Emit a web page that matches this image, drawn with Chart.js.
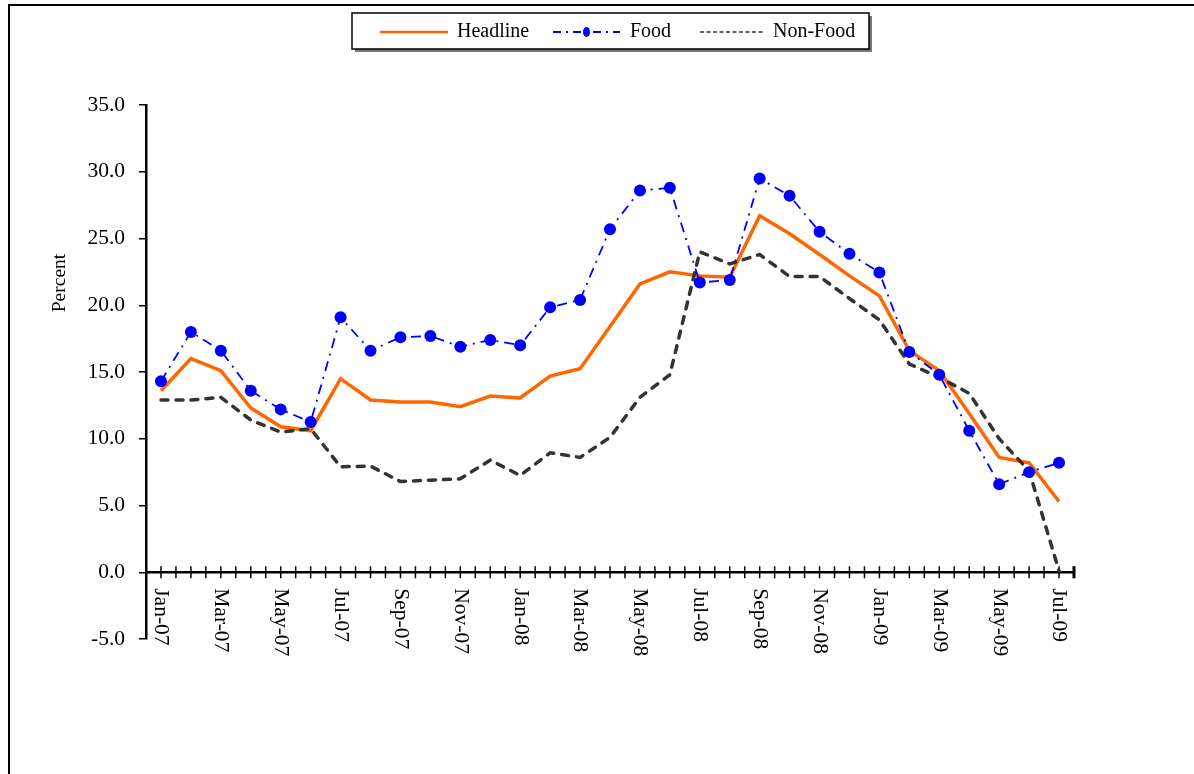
<!DOCTYPE html>
<html>
<head>
<meta charset="utf-8">
<script src="https://cdn.jsdelivr.net/npm/chart.js@4/dist/chart.umd.min.js"></script>
<style>
  html, body { margin: 0; padding: 0; background: #fff; }
  canvas { display: block; }
</style>
</head>
<body>
<canvas id="c" width="1194" height="774"></canvas>
<script>
const months = ['Jan-07','Feb-07','Mar-07','Apr-07','May-07','Jun-07','Jul-07','Aug-07','Sep-07','Oct-07','Nov-07','Dec-07',
                'Jan-08','Feb-08','Mar-08','Apr-08','May-08','Jun-08','Jul-08','Aug-08','Sep-08','Oct-08','Nov-08','Dec-08',
                'Jan-09','Feb-09','Mar-09','Apr-09','May-09','Jun-09','Jul-09'];
const headline = [13.6,16.0,15.1,12.3,10.9,10.6,14.5,12.9,12.75,12.75,12.4,13.2,
                  13.05,14.7,15.25,18.4,21.6,22.5,22.2,22.1,26.7,25.35,23.8,22.2,
                  20.7,16.6,15.1,11.9,8.6,8.2,5.3];
const food = [14.3,18.0,16.6,13.6,12.2,11.25,19.1,16.6,17.6,17.7,16.9,17.4,
              17.0,19.85,20.4,25.7,28.6,28.8,21.7,21.9,29.5,28.2,25.5,23.85,
              22.45,16.5,14.8,10.6,6.6,7.5,8.2];
const nonFood = [12.9,12.9,13.1,11.4,10.5,10.75,7.9,7.95,6.8,6.9,7.0,8.4,
                 7.25,8.95,8.6,10.1,13.1,14.8,24.0,23.1,23.8,22.15,22.15,20.5,
                 18.9,15.6,14.6,13.4,10.0,7.6,0.1];
const yTicks = { min: -5, max: 35, step: 5 };
const yTitle = 'Percent';
const seriesNames = ['Headline','Food','Non-Food'];

const FONT = '"Liberation Serif", "Times New Roman", serif';

const deco = {
  id: 'deco',
  beforeDatasetsDraw(chart) {
    const { ctx, chartArea: a, scales: { x, y } } = chart;
    const y0 = y.getPixelForValue(0);
    const half = (x.getPixelForValue(1) - x.getPixelForValue(0)) / 2;
    ctx.save();
    ctx.strokeStyle = '#000';
    ctx.lineWidth = 2.5;
    ctx.beginPath();
    ctx.moveTo(a.left, y0);
    ctx.lineTo(a.right, y0);
    ctx.stroke();
    ctx.lineWidth = 1.5;
    for (let i = 0; i < months.length; i++) {
      const c = x.getPixelForValue(i);
      [c, c + half].forEach(px => {
        ctx.beginPath();
        ctx.moveTo(px, y0 - 6);
        ctx.lineTo(px, y0 + 6);
        ctx.stroke();
      });
    }
    ctx.lineWidth = 3;
    ctx.beginPath();
    ctx.moveTo(a.right, y0 - 6);
    ctx.lineTo(a.right, y0 + 6);
    ctx.stroke();
    // labels
    ctx.fillStyle = '#000';
    ctx.font = '21.5px ' + FONT;
    ctx.textAlign = 'left';
    ctx.textBaseline = 'middle';
    months.forEach((m, i) => {
      if (i % 2) return;
      const c = x.getPixelForValue(i);
      ctx.save();
      ctx.translate(c, y0 + 16);
      ctx.rotate(Math.PI / 2);
      ctx.fillText(m, 0, 0);
      ctx.restore();
    });
    ctx.restore();
  },
  afterDraw(chart) {
    const { ctx } = chart;
    ctx.save();
    // outer frame
    ctx.strokeStyle = '#000';
    ctx.lineWidth = 2;
    ctx.strokeRect(9, 5, 1400, 1000);
    // y title
    ctx.fillStyle = '#000';
    ctx.font = '19.5px ' + FONT;
    ctx.textAlign = 'center';
    ctx.textBaseline = 'middle';
    ctx.save();
    ctx.translate(60, 283);
    ctx.rotate(-Math.PI / 2);
    ctx.fillText(yTitle, 0, 0);
    ctx.restore();
    // legend box
    const bx = 352, by = 13, bw = 517, bh = 36;
    ctx.fillStyle = '#777';
    ctx.fillRect(bx + 3, by + 3, bw, bh);
    ctx.fillStyle = '#fff';
    ctx.fillRect(bx, by, bw, bh);
    ctx.lineWidth = 1.5;
    ctx.strokeStyle = '#000';
    ctx.strokeRect(bx, by, bw, bh);
    const ly = by + bh / 2 + 1;
    const ds = chart.data.datasets;
    const items = [
      { x0: 380, x1: 448, tx: 457 },
      { x0: 553, x1: 620, tx: 630 },
      { x0: 700, x1: 765, tx: 773 }
    ];
    ctx.font = '20px ' + FONT;
    ctx.textAlign = 'left';
    ctx.textBaseline = 'middle';
    items.forEach((it, i) => {
      const d = ds[i];
      ctx.save();
      ctx.strokeStyle = d.borderColor;
      ctx.lineWidth = i === 0 ? 2.5 : (i === 1 ? 2 : 1.5);
      ctx.setLineDash(i === 1 ? [8, 5, 2, 5] : (i === 2 ? [4, 2.5] : []));
      ctx.beginPath();
      ctx.moveTo(it.x0, ly);
      ctx.lineTo(it.x1, ly);
      ctx.stroke();
      ctx.setLineDash([]);
      if (i === 1) {
        ctx.fillStyle = d.pointBackgroundColor;
        ctx.beginPath();
        ctx.ellipse((it.x0 + it.x1) / 2, ly, 3.5, 5, 0, 0, Math.PI * 2);
        ctx.fill();
      }
      ctx.fillStyle = '#000';
      ctx.fillText(d.label, it.tx, ly);
      ctx.restore();
    });
    ctx.restore();
  }
};

new Chart(document.getElementById('c'), {
  type: 'line',
  data: {
    labels: months,
    datasets: [
      { label: seriesNames[0], data: headline, borderColor: '#FF6600', borderWidth: 3.5,
        pointRadius: 0, tension: 0, order: 3 },
      { label: seriesNames[1], data: food, borderColor: '#0000FF', borderWidth: 1.8,
        borderDash: [10, 6, 2, 6], pointRadius: 6, pointBackgroundColor: '#0000FF',
        pointBorderColor: '#0000FF', pointBorderWidth: 0, tension: 0, order: 1 },
      { label: seriesNames[2], data: nonFood, borderColor: '#333333', borderWidth: 3.5,
        borderDash: [7, 8], borderCapStyle: 'round', pointRadius: 0, tension: 0, order: 2 }
    ]
  },
  options: {
    responsive: false,
    animation: false,
    devicePixelRatio: 1,
    layout: { padding: { left: 0, right: 120, top: 105, bottom: 135 } },
    plugins: { legend: { display: false }, tooltip: { enabled: false } },
    scales: {
      x: { type: 'category', display: false, offset: true },
      y: {
        min: yTicks.min, max: yTicks.max,
        afterFit(scale) { scale.width = 146; },
        border: { display: true, color: '#000', width: 2.5 },
        grid: { display: true, drawOnChartArea: false, drawTicks: true, tickLength: 7, color: '#000', lineWidth: 1.5 },
        ticks: {
          stepSize: yTicks.step, color: '#000', padding: 14,
          font: { family: FONT, size: 21.5 },
          callback: v => Number(v).toFixed(1)
        }
      }
    }
  },
  plugins: [deco]
});
</script>
</body>
</html>
